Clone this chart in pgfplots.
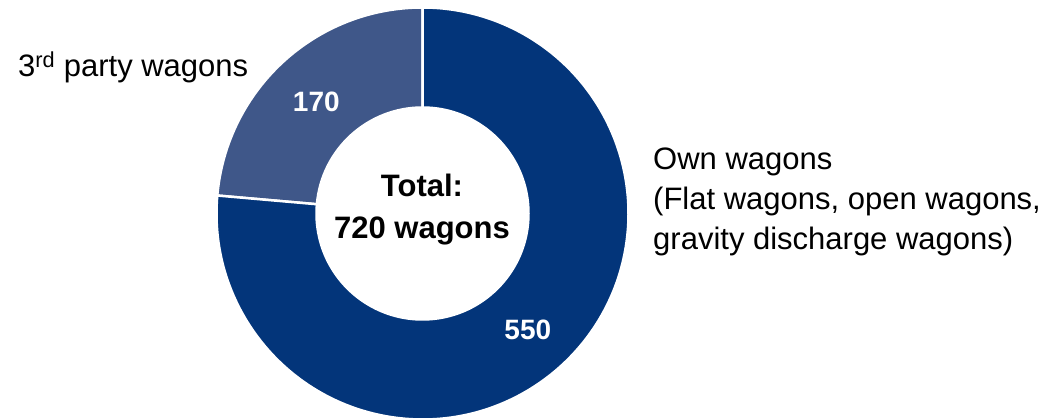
\documentclass[border=0pt]{standalone}
\usepackage{pgfplots}
\pgfplotsset{compat=1.18}
\usepackage{pgfplotstable}
\usetikzlibrary{calc}
\usepackage{fontspec}
\setmainfont{Liberation Sans}
\definecolor{own}{HTML}{03357A}
\definecolor{third}{HTML}{3F5789}

\pgfplotstableread{
label value
third 170
own 550
}\wagons

\begin{document}
\begin{tikzpicture}
\pgfplotstablegetelem{0}{value}\of\wagons \let\vthird\pgfplotsretval
\pgfplotstablegetelem{1}{value}\of\wagons \let\vown\pgfplotsretval
\pgfmathsetmacro\total{\vthird+\vown}
\pgfmathsetmacro\frac{\vthird/\total}
\pgfmathsetmacro\aend{90+360*\frac}
\pgfmathsetmacro\aownend{450}
\def\cx{422.5}\def\cy{205.5}
\def\Ro{206pt}\def\Ri{106pt}
\begin{axis}[hide axis, scale only axis, width=1061pt, height=419pt,
  xmin=0, xmax=1061, ymin=0, ymax=419, clip=false]
% 3rd party wedge (counterclockwise from top)
\fill[third, draw=white, line width=2.5pt] ($(axis cs:\cx,\cy)+(90:\Ro)$) arc[start angle=90, end angle=\aend, radius=\Ro]
  -- ($(axis cs:\cx,\cy)+(\aend:\Ri)$) arc[start angle=\aend, end angle=90, radius=\Ri] -- cycle;
% own wedge
\fill[own, draw=white, line width=2.5pt] ($(axis cs:\cx,\cy)+(\aend:\Ro)$) arc[start angle=\aend, end angle=\aownend, radius=\Ro]
  -- ($(axis cs:\cx,\cy)+(\aownend:\Ri)$) arc[start angle=\aownend, end angle=\aend, radius=\Ri] -- cycle;
% values
\node[anchor=base, text=white, font=\fontsize{28}{33}\selectfont\bfseries] at (axis cs:316.3,307.3) {\vthird};
\node[anchor=base, text=white, font=\fontsize{28}{33}\selectfont\bfseries] at (axis cs:527.8,79) {\vown};
% center
\node[anchor=base, font=\fontsize{31}{37}\selectfont\bfseries] at (axis cs:422,222.3) {Total:};
\node[anchor=base, font=\fontsize{31}{37}\selectfont\bfseries] at (axis cs:422,180.7) {720 wagons};
% category labels
\node[anchor=base west, inner sep=0pt, font=\fontsize{31}{37}\selectfont] at (axis cs:18,342.3) {3\textsuperscript{rd} party wagons};
\node[anchor=base west, inner sep=0pt, font=\fontsize{31}{37}\selectfont] at (axis cs:653,249.7) {Own wagons};
\node[anchor=base west, inner sep=0pt, font=\fontsize{31}{37}\selectfont] at (axis cs:653,209.5) {(Flat wagons, open wagons,};
\node[anchor=base west, inner sep=0pt, font=\fontsize{31}{37}\selectfont] at (axis cs:653,169) {gravity discharge wagons)};
\end{axis}
\pgfresetboundingbox
\path (current axis.south west) rectangle (current axis.north east);
\end{tikzpicture}
\end{document}
